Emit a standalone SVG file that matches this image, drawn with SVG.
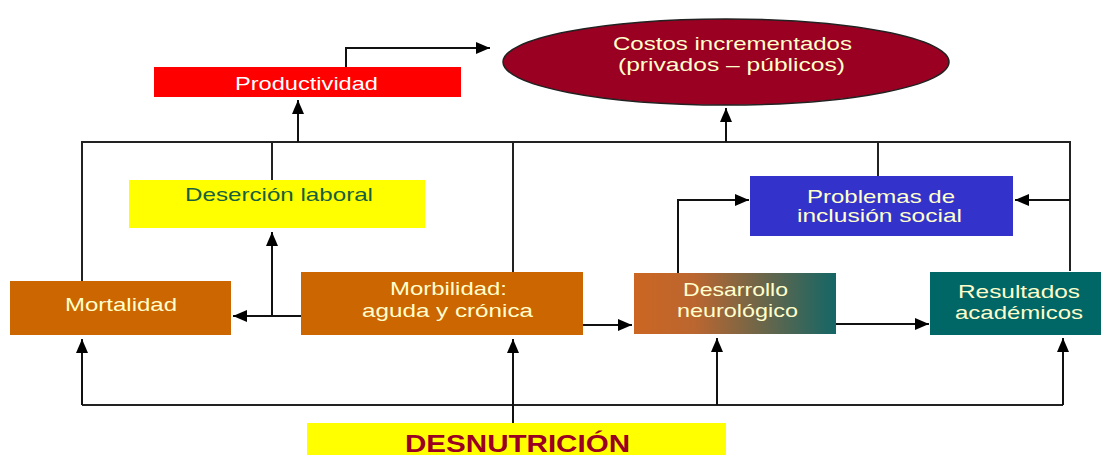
<svg xmlns="http://www.w3.org/2000/svg" width="1101" height="455" viewBox="0 0 1101 455">
<defs>
<marker id="arr" markerUnits="userSpaceOnUse" markerWidth="14" markerHeight="12" viewBox="0 0 14 12" refX="14" refY="6" orient="auto">
<path d="M0,0 L14,6 L0,12 Z" fill="#000"/>
</marker>
<linearGradient id="grad" x1="0" y1="0" x2="1" y2="0">
<stop offset="0" stop-color="#cc6622"/>
<stop offset="0.3" stop-color="#bb6630"/>
<stop offset="1" stop-color="#146666"/>
</linearGradient>
<style>
.c{fill:none;stroke:#222;stroke-width:2}
.a{fill:none;stroke:#111;stroke-width:2;marker-end:url(#arr)}
.t{font-family:"Liberation Sans",Arial,sans-serif;font-size:19px;fill:#ffffcc;text-anchor:start}
</style>
</defs>
<rect width="1101" height="455" fill="#fff"/>
<g id="connectors">
<path class="a" d="M346,67 V48 H490"/>
<path class="c" d="M82,281 V142 H1070 V271"/>
<path class="a" d="M298,142 V100"/>
<path class="a" d="M726,142 V108"/>
<path class="c" d="M272,142 V180"/>
<path class="c" d="M513,142 V272"/>
<path class="c" d="M878,142 V176"/>
<path class="a" d="M1070,200 H1015"/>
<path class="a" d="M301,316 H233"/>
<path class="a" d="M272,316 V232"/>
<path class="a" d="M583,325 H632"/>
<path class="a" d="M678,273 V200 H749"/>
<path class="a" d="M836,324 H929"/>
<path class="c" d="M82,405 H1063"/>
<path class="a" d="M82,405 V339"/>
<path class="a" d="M717,405 V338"/>
<path class="a" d="M1063,405 V338"/>
<path class="a" d="M513,423 V339"/>
</g>
<g id="productividad">
<rect x="154" y="67" width="307" height="30" fill="#ff0000"/>
<text class="t" x="235" y="90" textLength="143" lengthAdjust="spacingAndGlyphs" style="fill:#ffffff">Productividad</text>
</g>
<g id="costos">
<ellipse cx="726" cy="62" rx="223" ry="43" fill="#990022" stroke="#222" stroke-width="1.5"/>
<text class="t" x="613" y="50" textLength="239" lengthAdjust="spacingAndGlyphs">Costos incrementados</text>
<text class="t" x="618" y="71" textLength="227" lengthAdjust="spacingAndGlyphs">(privados – públicos)</text>
</g>
<g id="desercion">
<rect x="129" y="180" width="296" height="48" fill="#ffff00"/>
<text class="t" x="185" y="201" textLength="188" lengthAdjust="spacingAndGlyphs" style="fill:#17603f">Deserción laboral</text>
</g>
<g id="problemas">
<rect x="750" y="176" width="263" height="60" fill="#3333cc"/>
<text class="t" x="807" y="203" textLength="148" lengthAdjust="spacingAndGlyphs">Problemas de</text>
<text class="t" x="797" y="222" textLength="165" lengthAdjust="spacingAndGlyphs">inclusión social</text>
</g>
<g id="mortalidad">
<rect x="10" y="281" width="221" height="54" fill="#cc6600"/>
<text class="t" x="65" y="311" textLength="112" lengthAdjust="spacingAndGlyphs">Mortalidad</text>
</g>
<g id="morbilidad">
<rect x="301" y="272" width="282" height="63" fill="#cc6600"/>
<text class="t" x="390" y="295" textLength="117" lengthAdjust="spacingAndGlyphs">Morbilidad:</text>
<text class="t" x="362" y="317" textLength="171" lengthAdjust="spacingAndGlyphs">aguda y crónica</text>
</g>
<g id="desarrollo">
<rect x="634" y="273" width="202" height="61" fill="url(#grad)"/>
<text class="t" x="683" y="296" textLength="105" lengthAdjust="spacingAndGlyphs">Desarrollo</text>
<text class="t" x="677" y="317" textLength="121" lengthAdjust="spacingAndGlyphs">neurológico</text>
</g>
<g id="resultados">
<rect x="930" y="272" width="171" height="63" fill="#006666"/>
<text class="t" x="958" y="298" textLength="122" lengthAdjust="spacingAndGlyphs">Resultados</text>
<text class="t" x="955" y="319" textLength="128" lengthAdjust="spacingAndGlyphs">académicos</text>
</g>
<g id="desnutricion">
<rect x="307" y="423" width="419" height="32" fill="#ffff00"/>
<text class="t" x="405" y="452" textLength="225" lengthAdjust="spacingAndGlyphs" style="fill:#990022;font-weight:bold;font-size:24px">DESNUTRICIÓN</text>
</g>
</svg>
